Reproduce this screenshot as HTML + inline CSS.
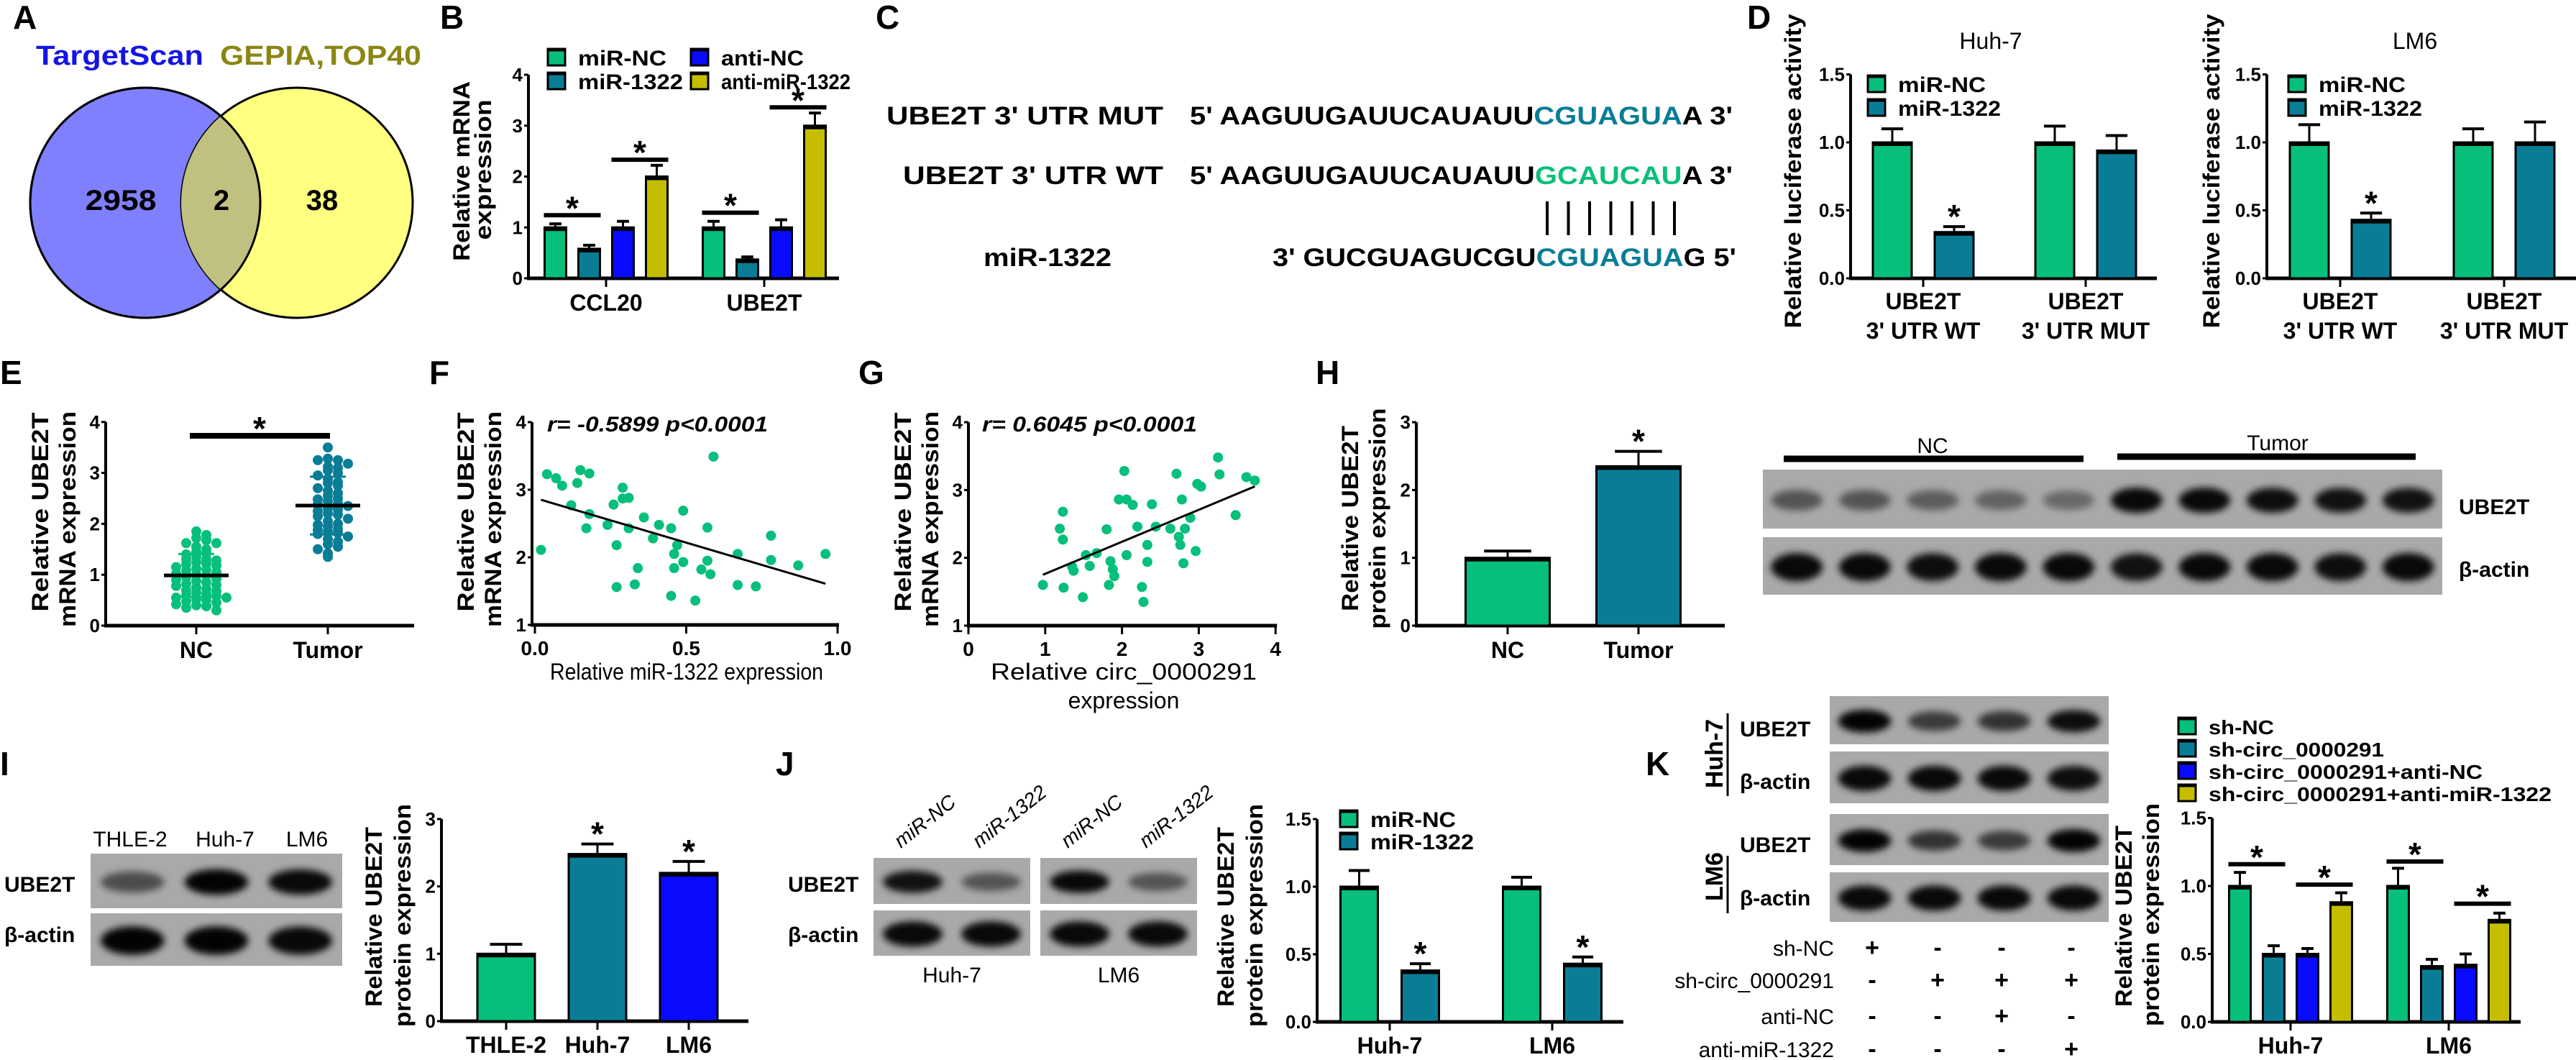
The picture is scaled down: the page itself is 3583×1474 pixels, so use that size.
<!DOCTYPE html>
<html><head><meta charset="utf-8"><title>Figure</title>
<style>html,body{margin:0;padding:0;background:#fff}svg{display:block;font-family:"Liberation Sans",Arial,sans-serif}</style>
</head><body>
<svg id="fig" xmlns="http://www.w3.org/2000/svg" width="3583" height="1474" viewBox="0 0 3583 1474">
<defs><filter id="blur" x="-50%" y="-50%" width="200%" height="200%"><feGaussianBlur stdDeviation="5"/></filter></defs>
<rect x="0" y="0" width="3583" height="1474" fill="#fff"/>
<!-- Panel A -->
<text x="18" y="40" font-size="46" font-weight="bold">A</text>
<text x="50" y="90" font-size="38" font-weight="bold" fill="#1414e6" textLength="233" lengthAdjust="spacingAndGlyphs">TargetScan</text>
<text x="306" y="90" font-size="38" font-weight="bold" fill="#8a8612" textLength="280" lengthAdjust="spacingAndGlyphs">GEPIA,TOP40</text>
<ellipse cx="202" cy="282" rx="160" ry="160" fill="#8080ff" stroke="#000" stroke-width="3"/>
<ellipse cx="413" cy="282" rx="161" ry="160" fill="#ffff80" stroke="#000" stroke-width="3"/>
<clipPath id="clipA"><ellipse cx="202" cy="282" rx="160" ry="160"/></clipPath>
<ellipse cx="413" cy="282" rx="161" ry="160" fill="#c0c080" clip-path="url(#clipA)"/>
<ellipse cx="202" cy="282" rx="160" ry="160" fill="none" stroke="#000" stroke-width="3"/>
<text x="168" y="292" font-size="40" font-weight="bold" text-anchor="middle" textLength="99" lengthAdjust="spacingAndGlyphs">2958</text>
<text x="308" y="292" font-size="40" font-weight="bold" text-anchor="middle">2</text>
<text x="448" y="292" font-size="40" font-weight="bold" text-anchor="middle">38</text>
<text x="612" y="40" font-size="46" font-weight="bold">B</text>
<!-- Panel C -->
<text x="1218" y="40" font-size="46" font-weight="bold">C</text>
<text x="1233" y="173" font-size="35" font-weight="bold" textLength="385" lengthAdjust="spacingAndGlyphs">UBE2T  3' UTR MUT</text>
<text x="1655" y="173" font-size="35" font-weight="bold" textLength="755" lengthAdjust="spacingAndGlyphs">5' AAGUUGAUUCAUAUU<tspan fill="#0a7d96">CGUAGUA</tspan>A 3'</text>
<text x="1256" y="256" font-size="35" font-weight="bold" textLength="362" lengthAdjust="spacingAndGlyphs">UBE2T  3' UTR WT</text>
<text x="1655" y="256" font-size="35" font-weight="bold" textLength="755" lengthAdjust="spacingAndGlyphs">5' AAGUUGAUUCAUAUU<tspan fill="#0abf7b">GCAUCAU</tspan>A 3'</text>
<text x="1368" y="370" font-size="35" font-weight="bold" textLength="178" lengthAdjust="spacingAndGlyphs">miR-1322</text>
<text x="1770" y="370" font-size="35" font-weight="bold" textLength="645" lengthAdjust="spacingAndGlyphs">3' GUCGUAGUCGU<tspan fill="#0a7d96">CGUAGUA</tspan>G 5'</text>
<g id="pairs"></g>
<text x="2430" y="40" font-size="46" font-weight="bold">D</text>
<text x="0" y="534" font-size="46" font-weight="bold">E</text>
<text x="597" y="534" font-size="46" font-weight="bold">F</text>
<text x="1194" y="534" font-size="46" font-weight="bold">G</text>
<text x="1830" y="534" font-size="46" font-weight="bold">H</text>
<text x="0" y="1078" font-size="46" font-weight="bold">I</text>
<text x="1079" y="1078" font-size="46" font-weight="bold">J</text>
<text x="2289" y="1078" font-size="46" font-weight="bold">K</text>
<g id="dyn"></g>
</svg>
<script>
// ---------- DATA ----------
const bCats=['CCL20','UBE2T'];
const bMiNC=[1.0,1.0], bMi1322=[0.58,0.37], bAntiNC=[1.0,1.0], bAnti1322=[2.0,3.0];
const bMiNCErr=[0.07,0.12], bMi1322Err=[0.07,0.05], bAntiNCErr=[0.12,0.15], bAnti1322Err=[0.22,0.25];
const bSigLow=[1.24,1.29], bSigHigh=[2.33,3.36];
const bTicks=[0,1,2,3,4];
const dCats=['3\' UTR WT','3\' UTR MUT'];
const dHuhNC=[1.0,1.0], dHuh1322=[0.34,0.94], dHuhNCErr=[0.1,0.12], dHuh1322Err=[0.04,0.11];
const dLmNC=[1.0,1.0], dLm1322=[0.43,1.0], dLmNCErr=[0.13,0.1], dLm1322Err=[0.05,0.15];
const dTicks=[0,0.5,1.0,1.5];
const eNC=[1.85,1.78,1.72,1.68,1.62,1.62,1.55,1.5,1.45,1.42,1.4,1.35,1.3,1.3,1.28,1.25,1.22,1.2,1.18,1.15,1.12,1.1,1.08,1.05,1.02,1.0,0.98,0.95,0.92,0.9,0.88,0.85,0.82,0.8,0.78,0.75,0.72,0.7,0.68,0.65,0.62,0.6,0.58,0.55,0.55,0.52,0.5,0.48,0.45,0.42,0.4,0.38,0.35,0.3];
const eTumor=[3.5,3.28,3.25,3.25,3.18,3.12,3.1,3.05,3.0,2.95,2.88,2.82,2.8,2.75,2.7,2.65,2.6,2.55,2.5,2.48,2.45,2.4,2.38,2.35,2.3,2.28,2.25,2.2,2.18,2.15,2.1,2.05,2.0,1.98,1.95,1.9,1.88,1.85,1.82,1.8,1.75,1.7,1.65,1.6,1.55,1.5,1.42,1.35];
const eTicks=[0,1,2,3,4];
const fX=[0.04,0.07,0.09,0.14,0.15,0.18,0.02,0.12,0.18,0.17,0.24,0.29,0.26,0.29,0.31,0.27,0.31,0.36,0.39,0.41,0.45,0.49,0.47,0.46,0.46,0.57,0.59,0.57,0.55,0.58,0.49,0.34,0.33,0.27,0.45,0.53,0.67,0.67,0.73,0.78,0.78,0.87,0.96];
const fY=[3.23,3.17,3.06,3.10,3.29,3.24,2.11,2.77,2.64,2.43,2.48,3.03,2.78,2.87,2.88,2.18,2.43,2.59,2.28,2.48,2.43,2.69,2.18,2.05,1.84,2.44,3.49,1.95,1.82,1.75,1.93,1.84,1.60,1.56,1.43,1.36,2.05,1.59,1.57,2.32,1.96,1.88,2.05];
const fXTicks=[0,0.5,1.0], fYTicks=[1,2,3,4];
const gX=[0.97,1.24,1.49,1.23,1.19,1.23,1.35,1.37,1.53,1.58,1.67,1.80,1.83,1.85,1.88,1.90,1.96,2.03,2.06,2.14,2.06,2.20,2.26,2.28,2.33,2.33,2.39,2.44,2.63,2.71,2.74,2.76,2.78,2.80,2.82,2.89,2.96,2.98,3.03,3.25,3.27,3.48,3.62,3.73];
const gY=[1.60,1.56,1.42,2.68,2.43,2.27,1.87,1.81,2.04,1.88,2.07,2.42,1.60,1.95,1.83,1.73,2.86,3.28,2.86,2.78,2.04,2.46,1.57,1.35,2.19,1.94,2.79,2.46,2.43,3.24,2.31,2.19,2.86,1.92,2.43,2.59,2.10,3.09,3.05,3.48,3.23,2.63,3.19,3.14];
const gXTicks=[0,1,2,3,4], gYTicks=[1,2,3,4];
const hCats=['NC','Tumor'], hVals=[1.0,2.35], hErrs=[0.1,0.22], hTicks=[0,1,2,3];
const hUbe=[0.5,0.5,0.45,0.42,0.38,0.95,0.95,0.92,0.9,0.9], hActin=[0.95,0.95,0.92,0.95,0.95,0.9,0.95,0.95,0.92,0.95];
const iCats=['THLE-2','Huh-7','LM6'], iVals=[1.0,2.48,2.2], iErrs=[0.14,0.15,0.17], iTicks=[0,1,2,3];
const iUbe=[0.55,0.98,0.95], iActin=[0.98,0.98,0.95];
const jCats=['Huh-7','LM6'], jNC=[1.0,1.0], j1322=[0.38,0.43], jNCErr=[0.12,0.07], j1322Err=[0.05,0.05], jTicks=[0,0.5,1.0,1.5];
const jUbe=[[0.9,0.5],[0.95,0.5]], jActin=[[0.95,0.95],[0.95,0.95]];
const kCats=['Huh-7','LM6'];
const kShNC=[1.0,1.0], kShCirc=[0.5,0.41], kShCircAntiNC=[0.5,0.42], kShCircAnti1322=[0.88,0.75];
const kShNCErr=[0.1,0.13], kShCircErr=[0.06,0.05], kShCircAntiNCErr=[0.04,0.08], kShCircAnti1322Err=[0.07,0.05];
const kSigLow=[1.16,1.18], kSigHigh=[1.01,0.87], kTicks=[0,0.5,1.0,1.5];
const kHuhUbe=[0.98,0.65,0.7,0.92], kHuhActin=[0.95,0.95,0.95,0.92], kLmUbe=[0.98,0.7,0.65,0.98], kLmActin=[0.95,0.95,0.95,0.95];
const kRows=['sh-NC','sh-circ_0000291','anti-NC','anti-miR-1322'];
const kSigns=[['+','-','-','-'],['-','+','+','+'],['-','-','+','-'],['-','-','-','+']];
// ---------- DRAW ----------
const NS='http://www.w3.org/2000/svg';
const root=document.getElementById('dyn');
const GREEN='#06bf7b',TEAL='#0a7d96',BLUE='#0a0aff',OLIVE='#c5be00';
function el(tag,attrs,name,parent){
  const e=document.createElementNS(NS,tag);
  for(const k in attrs) e.setAttribute(k,attrs[k]);
  
  
  (parent||root).appendChild(e);return e;
}
function tx(x,y,s,size,name,o){
  o=o||{};
  const t=el('text',{x:x,y:y,'font-size':size,'font-weight':o.w||'bold','text-anchor':o.a||'start',fill:o.fill||'#000'},name);
  if(o.len){t.setAttribute('textLength',o.len);t.setAttribute('lengthAdjust','spacingAndGlyphs');}
  if(o.rot!==undefined){t.setAttribute('transform','rotate('+o.rot+' '+x+' '+y+')');}
  if(o.it){t.setAttribute('font-style','italic');}
  t.textContent=s;return t;
}
function line(x1,y1,x2,y2,w,name,col){return el('line',{x1:x1,y1:y1,x2:x2,y2:y2,stroke:col||'#000','stroke-width':w},name);}
// base pairs
const pg=document.getElementById('pairs');
for(let i=0;i<7;i++){
  const l=document.createElementNS(NS,'line');
  l.setAttribute('x1',2152+i*29.5);l.setAttribute('x2',2152+i*29.5);l.setAttribute('y1',280);l.setAttribute('y2',327);
  l.setAttribute('stroke','#000');l.setAttribute('stroke-width',4);
  
  
  pg.appendChild(l);
}
function yAxis(c,ticks,fmt){
  const Y=v=>c.yZ-(v-(c.yMin||0))*c.u;
  line(c.xL,Y(c.yMin||0)+2,c.xL,Y(ticks[ticks.length-1]),4,c.name+'-y-axis');
  ticks.forEach(t=>{
    line(c.xL-6,Y(t),c.xL,Y(t),3,c.name+'-y-tick');
    tx(c.xL-8,Y(t)+9,fmt?fmt(t):String(t),c.tick||26,c.name+'-y-tick-label',{a:'end'});
  });
  return Y;
}
function ylabel(x,cy,s,len,name){tx(x,cy,s,32,name,{a:'middle',rot:-90,len:len});}
function star(x,y,name){tx(x,y+14,'*',46,name,{a:'middle'});}
function barChart(c,cats,series,errs,colors){
  const Y=yAxis(c,c.ticks,c.fmt);
  line(c.xL-2,c.yZ,c.xR,c.yZ,5,c.name+'-x-axis');
  const ns=series.length;
  const cx=i=>c.c0+i*c.step;
  const bx=(s,i)=>cx(i)+(s-(ns-1)/2)*c.sstep;
  cats.forEach((cat,i)=>{
    line(cx(i),c.yZ,cx(i),c.yZ+12,3,c.name+'-x-tick');
    if(Array.isArray(cat)){cat.forEach((ln,k)=>tx(cx(i),c.catY+k*41,ln,c.catSize||32,c.name+'-x-label',{a:'middle'}));}
    else tx(cx(i),c.catY,cat,c.catSize||32,c.name+'-x-label',{a:'middle'});
  });
  series.forEach((vals,s)=>vals.forEach((v,i)=>{
    const x=bx(s,i),top=Y(v),e=errs[s][i];
    const col=c.colorByCat?colors[i]:colors[s];
    line(x,top,x,Y(v+e),3,c.name+'-error-bar');
    line(x-c.bw*0.28,Y(v+e),x+c.bw*0.28,Y(v+e),4,c.name+'-error-cap');
    el('rect',{x:x-c.bw/2,y:top,width:c.bw,height:c.yZ-top,fill:col,stroke:'#000','stroke-width':3},c.name+'-bar');
    line(x-c.bw/2-1.5,top+2,x+c.bw/2+1.5,top+2,6,c.name+'-bar-top');
  }));
  return {Y:Y,bx:bx};
}
function legend(x,y,labels,colors,lens,dy,name,size){
  labels.forEach((l,k)=>{
    el('rect',{x:x,y:y+k*dy-11,width:24,height:22,fill:colors[k],stroke:'#000','stroke-width':3},name+'-swatch');
    line(x-1.5,y+k*dy-11,x+25.5,y+k*dy-11,5,name+'-swatch-top');
    tx(x+42,y+k*dy+11,l,size||30,name+'-label',{len:lens[k]});
  });
}
function sig(p,s1,s2,i,level,name){
  const x1=p.bx(s1,i)-16,x2=p.bx(s2,i)+16,y=p.Y(level);
  line(x1,y,x2,y,6,name+'-bar');star((x1+x2)/2,y-8,name+'-star');
}
// ---- B ----
const cB={name:'b',xL:735,xR:1167,yZ:387,u:70.75,ticks:bTicks,c0:843,step:220,sstep:47,bw:30,catY:432};
const pB=barChart(cB,bCats,[bMiNC,bMi1322,bAntiNC,bAnti1322],[bMiNCErr,bMi1322Err,bAntiNCErr,bAnti1322Err],[GREEN,TEAL,BLUE,OLIVE]);
bCats.forEach((c,i)=>{sig(pB,0,1,i,bSigLow[i],'b-sig');sig(pB,2,3,i,bSigHigh[i],'b-sig');});
legend(762,80,['miR-NC','miR-1322'],[GREEN,TEAL],[123,146],33,'b-legend');
legend(961,80,['anti-NC','anti-miR-1322'],[BLUE,OLIVE],[115,180],33,'b-legend');
ylabel(653,238,'Relative mRNA',250,'b-y-title');ylabel(683,236,'expression',195,'b-y-title');
// ---- D ----
const fmt1=t=>t.toFixed(1);
const dCatLines=dCats.map(c=>['UBE2T',c]);
const cD1={name:'d-huh7',xL:2574,xR:3000,yZ:387,u:189,ticks:dTicks,fmt:fmt1,c0:2675,step:226,sstep:86,bw:54,catY:430};
const pD1=barChart(cD1,dCatLines,[dHuhNC,dHuh1322],[dHuhNCErr,dHuh1322Err],[GREEN,TEAL]);
star(pD1.bx(1,0),pD1.Y(dHuh1322[0]+dHuh1322Err[0])-12,'d-huh7-star');
legend(2598,117,['miR-NC','miR-1322'],[GREEN,TEAL],[122,143],33,'d-huh7-legend');
tx(2769,68,'Huh-7',32,'d-huh7-title',{a:'middle',w:'normal'});
ylabel(2505,238,'Relative luciferase activity',437,'d-huh7-y-title');
const cD2={name:'d-lm6',xL:3153,xR:3583,yZ:387,u:189,ticks:dTicks,fmt:fmt1,c0:3255,step:228,sstep:86,bw:54,catY:430};
const pD2=barChart(cD2,dCatLines,[dLmNC,dLm1322],[dLmNCErr,dLm1322Err],[GREEN,TEAL]);
star(pD2.bx(1,0),pD2.Y(dLm1322[0]+dLm1322Err[0])-12,'d-lm6-star');
legend(3183,117,['miR-NC','miR-1322'],[GREEN,TEAL],[121,144],33,'d-lm6-legend');
tx(3359,68,'LM6',32,'d-lm6-title',{a:'middle',w:'normal'});
ylabel(3087,238,'Relative luciferase activity',437,'d-lm6-y-title');
// ---- E ----
(function(){
  const c={name:'e',xL:147,xR:576,yZ:870,u:70.8};
  const Y=yAxis(c,eTicks);
  line(c.xL-2,c.yZ,c.xR,c.yZ,5,'e-x-axis');
  const groups=[eNC,eTumor],cols=[GREEN,TEAL],names=['NC','Tumor'],cxs=[273,456];
  groups.forEach((g,gi)=>{
    const cx=cxs[gi],bins={};
    line(cx,c.yZ,cx,c.yZ+12,3,'e-x-tick');
    tx(cx,915,names[gi],32,'e-x-label',{a:'middle'});
    g.forEach(v=>{
      const b=Math.round(v/0.12);bins[b]=(bins[b]||0)+1;const k=bins[b]-1;
      const off=(k%2?1:-1)*Math.ceil(k/2)*14;
      el('circle',{cx:cx+off,cy:Y(v),r:7,fill:cols[gi]},'e-point-'+names[gi].toLowerCase());
    });
    const m=g.reduce((a,b)=>a+b,0)/g.length;
    const sd=Math.sqrt(g.reduce((a,b)=>a+(b-m)*(b-m),0)/(g.length-1));
    line(cx,Y(m+sd),cx,Y(m-sd),3,'e-sd-line',cols[gi]);
    line(cx-25,Y(m+sd),cx+25,Y(m+sd),3,'e-sd-cap',cols[gi]);
    line(cx-25,Y(m-sd),cx+25,Y(m-sd),3,'e-sd-cap',cols[gi]);
    line(cx-45,Y(m),cx+45,Y(m),5,'e-mean-line');
  });
  line(264,606,459,606,8,'e-sig-bar');star(361,598,'e-sig-star');
  ylabel(67,712,'Relative UBE2T',277,'e-y-title');ylabel(105,722,'mRNA expression',300,'e-y-title');
})();
// ---- F & G scatter ----
function scatter(c,xs,ys,xt,yt,fmtx,name){
  const X=v=>c.x0+(v-xt[0])*c.ux;
  const Y=v=>c.yZ-(v-yt[0])*c.uy;
  line(c.xL,c.yZ+2,c.xL,Y(yt[yt.length-1]),4,name+'-y-axis');
  line(c.xL-2,c.yZ,X(xt[xt.length-1])+2,c.yZ,5,name+'-x-axis');
  yt.forEach(t=>{line(c.xL-6,Y(t),c.xL,Y(t),3,name+'-y-tick');tx(c.xL-8,Y(t)+9,String(t),26,name+'-y-tick-label',{a:'end'});});
  xt.forEach(t=>{line(X(t),c.yZ,X(t),c.yZ+12,3,name+'-x-tick');tx(X(t),c.yZ+42,fmtx(t),28,name+'-x-tick-label',{a:'middle'});});
  xs.forEach((x,i)=>el('circle',{cx:X(x),cy:Y(ys[i]),r:7,fill:GREEN},name+'-point'));
  const n=xs.length,mx=xs.reduce((a,b)=>a+b,0)/n,my=ys.reduce((a,b)=>a+b,0)/n;
  let sxy=0,sxx=0;xs.forEach((x,i)=>{sxy+=(x-mx)*(ys[i]-my);sxx+=(x-mx)*(x-mx);});
  const sl=sxy/sxx,ic=my-sl*mx,x1=Math.min(...xs),x2=Math.max(...xs);
  line(X(x1),Y(ic+sl*x1),X(x2),Y(ic+sl*x2),3,name+'-regression-line');
}
scatter({xL:740,x0:744,ux:421,yZ:869,uy:94},fX,fY,fXTicks,fYTicks,t=>t.toFixed(1),'f');
tx(761,600,'r= -0.5899   p<0.0001',30,'f-stats',{it:true,len:307});
tx(955,945,'Relative miR-1322 expression',32,'f-x-title',{a:'middle',w:'normal',len:380});
ylabel(659,712,'Relative UBE2T',277,'f-y-title');ylabel(697,722,'mRNA expression',300,'f-y-title');
scatter({xL:1347,x0:1347,ux:106.8,yZ:870,uy:94.3},gX,gY,gXTicks,gYTicks,t=>String(t),'g');
tx(1366,600,'r= 0.6045   p<0.0001',30,'g-stats',{it:true,len:299});
tx(1563,945,'Relative circ_0000291',32,'g-x-title',{a:'middle',w:'normal',len:370});
tx(1563,985,'expression',32,'g-x-title',{a:'middle',w:'normal'});
ylabel(1267,712,'Relative UBE2T',277,'g-y-title');ylabel(1305,722,'mRNA expression',300,'g-y-title');
// ---- blots ----
function blot(x,y,w,h,vals,name,bh){
  el('rect',{x:x,y:y,width:w,height:h,fill:'#a9a9a9'},name+'-membrane');
  const n=vals.length,lw=w/n;
  vals.forEach((v,i)=>{
    el('ellipse',{cx:x+lw*(i+0.5),cy:y+h*0.52,rx:lw*0.38,ry:(bh||h*0.2)*(0.6+0.4*v),fill:'#000','fill-opacity':v,filter:'url(#blur)'},name+'-band');
  });
}
// H
(function(){
  const c={name:'h',xL:1970,xR:2399,yZ:870,u:94.3,ticks:hTicks,c0:2097,step:182,sstep:0,bw:117,catY:915,colorByCat:true};
  const p=barChart(c,hCats,[hVals],[hErrs],[GREEN,TEAL]);
  star(p.bx(0,1),p.Y(hVals[1]+hErrs[1])-12,'h-star');
  ylabel(1889,721,'Relative UBE2T',258,'h-y-title');ylabel(1927,721,'protein expression',307,'h-y-title');
  blot(2452,653,945,82,hUbe,'h-ube2t-blot',18);
  blot(2452,747,945,80,hActin,'h-actin-blot',20);
  line(2481,638,2898,638,9,'h-nc-bracket');line(2945,635,3360,635,9,'h-tumor-bracket');
  tx(2688,630,'NC',30,'h-nc-label',{a:'middle',w:'normal'});tx(3168,626,'Tumor',30,'h-tumor-label',{a:'middle',w:'normal'});
  tx(3420,715,'UBE2T',30,'h-ube2t-label');tx(3420,802,'β-actin',30,'h-actin-label');
})();
// I
(function(){
  const c={name:'i',xL:614,xR:1041,yZ:1420,u:93.7,ticks:iTicks,c0:704,step:127,sstep:0,bw:80,catY:1464,colorByCat:true};
  const p=barChart(c,iCats,[iVals],[iErrs],[GREEN,TEAL,BLUE]);
  [1,2].forEach(i=>star(p.bx(0,i),p.Y(iVals[i]+iErrs[i])-12,'i-star'));
  ylabel(531,1275,'Relative UBE2T',250,'i-y-title');ylabel(571,1273,'protein expression',310,'i-y-title');
  blot(126,1187,350,76,iUbe,'i-ube2t-blot',18);blot(126,1270,350,73,iActin,'i-actin-blot',20);
  const lx=[181,313,427];
  iCats.forEach((cn,k)=>tx(lx[k],1177,cn,30,'i-lane-label',{a:'middle',w:'normal'}));
  tx(6,1240,'UBE2T',30,'i-ube2t-label');tx(6,1310,'β-actin',30,'i-actin-label');
})();
// J
(function(){
  const c={name:'j',xL:1832,xR:2258,yZ:1421,u:188,ticks:jTicks,fmt:fmt1,c0:1933,step:226,sstep:85,bw:52,catY:1465};
  const p=barChart(c,jCats,[jNC,j1322],[jNCErr,j1322Err],[GREEN,TEAL]);
  jCats.forEach((cn,i)=>star(p.bx(1,i),p.Y(j1322[i]+j1322Err[i])-12,'j-star'));
  legend(1864,1139,['miR-NC','miR-1322'],[GREEN,TEAL],[119,144],31,'j-legend');
  ylabel(1716,1275,'Relative UBE2T',250,'j-y-title');ylabel(1756,1273,'protein expression',310,'j-y-title');
  const bxs=[1215,1447];
  jCats.forEach((cn,i)=>{
    blot(bxs[i],1193,218,64,jUbe[i],'j-ube2t-blot',16);blot(bxs[i],1266,218,63,jActin[i],'j-actin-blot',18);
    tx(bxs[i]+109,1366,cn,30,'j-cell-label',{a:'middle',w:'normal'});
    ['miR-NC','miR-1322'].forEach((ln,k)=>tx(bxs[i]+109*k+38,1180,ln,28,'j-lane-label',{it:true,w:'normal',rot:-38}));
  });
  tx(1096,1240,'UBE2T',30,'j-ube2t-label');tx(1096,1310,'β-actin',30,'j-actin-label');
})();
// K
(function(){
  const c={name:'k',xL:3077,xR:3506,yZ:1421,u:189,ticks:kTicks,fmt:fmt1,c0:3186,step:220,sstep:47,bw:30,catY:1465};
  const p=barChart(c,kCats,[kShNC,kShCirc,kShCircAntiNC,kShCircAnti1322],[kShNCErr,kShCircErr,kShCircAntiNCErr,kShCircAnti1322Err],[GREEN,TEAL,BLUE,OLIVE]);
  kCats.forEach((cn,i)=>{sig(p,0,1,i,kSigLow[i],'k-sig');sig(p,2,3,i,kSigHigh[i],'k-sig');});
  legend(3030,1010,['sh-NC','sh-circ_0000291','sh-circ_0000291+anti-NC','sh-circ_0000291+anti-miR-1322'],[GREEN,TEAL,BLUE,OLIVE],[91,244,381,477],31,'k-legend',28);
  ylabel(2965,1274,'Relative UBE2T',252,'k-y-title');ylabel(3003,1272,'protein expression',310,'k-y-title');
  blot(2545,968,388,67,kHuhUbe,'k-huh7-ube2t-blot',16);blot(2545,1045,388,72,kHuhActin,'k-huh7-actin-blot',18);
  blot(2545,1132,388,71,kLmUbe,'k-lm6-ube2t-blot',16);blot(2545,1213,388,69,kLmActin,'k-lm6-actin-blot',18);
  tx(2396,1048,'Huh-7',34,'k-huh7-label',{a:'middle',rot:-90});line(2403,992,2403,1107,3,'k-huh7-divider');
  tx(2396,1219,'LM6',34,'k-lm6-label',{a:'middle',rot:-90});line(2403,1190,2403,1270,3,'k-lm6-divider');
  tx(2420,1024,'UBE2T',30,'k-huh7-ube2t-label');tx(2420,1097,'β-actin',30,'k-huh7-actin-label');
  tx(2420,1185,'UBE2T',30,'k-lm6-ube2t-label');tx(2420,1259,'β-actin',30,'k-lm6-actin-label');
  const colX=[2604,2695,2784,2881],rowY=[1329,1374,1424,1470];
  kRows.forEach((r,ri)=>{
    tx(2551,rowY[ri],r,30,'k-table-row-label',{a:'end',w:'normal'});
    kSigns[ri].forEach((s,ci)=>tx(colX[ci],rowY[ri],s,34,'k-table-sign',{a:'middle'}));
  });
})();
</script>
</body></html>
